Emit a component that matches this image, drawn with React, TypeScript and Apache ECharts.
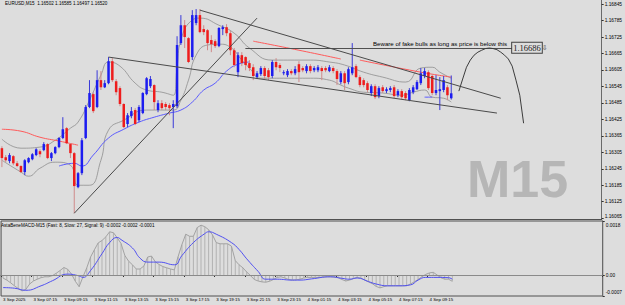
import React, { useEffect, useRef } from 'react';
import * as echarts from 'echarts';

// ---------- data ----------
const symbolName = 'EURUSD,M15';
const ohlcTitle = '1.16502 1.16585 1.16497 1.16520';
const macdTitle = 'AstaBeneMACD-M15 (Fast: 8, Slow: 27, Signal: 9) -0.0002 -0.0002 -0.0001';
const watermark = 'M15';
const startTimeUTC = Date.UTC(2025, 8, 3, 5, 15); // first bar: 3 Sep 2025 05:15
const barMinutes = 15;
const futureSlots = 39; // chart shift space on the right

// [open, high, low, close]
const candles: [number, number, number, number][] = [
  [1.16320, 1.16327, 1.16251, 1.16284], [1.16287, 1.16295, 1.16269, 1.16276], [1.16273, 1.16302, 1.16265, 1.16295],
  [1.16291, 1.16295, 1.16258, 1.16265], [1.16265, 1.16273, 1.16251, 1.16255], [1.16255, 1.16258, 1.16229, 1.16233],
  [1.16233, 1.16280, 1.16222, 1.16276], [1.16269, 1.16287, 1.16265, 1.16284], [1.16280, 1.16302, 1.16276, 1.16298],
  [1.16295, 1.16320, 1.16291, 1.16316], [1.16309, 1.16316, 1.16287, 1.16298], [1.16313, 1.16342, 1.16309, 1.16335],
  [1.16335, 1.16338, 1.16280, 1.16284], [1.16284, 1.16306, 1.16273, 1.16302], [1.16302, 1.16327, 1.16298, 1.16324],
  [1.16324, 1.16360, 1.16320, 1.16357], [1.16357, 1.16433, 1.16353, 1.16389], [1.16393, 1.16397, 1.16335, 1.16338],
  [1.16335, 1.16338, 1.16284, 1.16302], [1.16302, 1.16306, 1.16083, 1.16182], [1.16178, 1.16233, 1.16174, 1.16229],
  [1.16229, 1.16357, 1.16222, 1.16349], [1.16357, 1.16477, 1.16353, 1.16470], [1.16470, 1.16568, 1.16466, 1.16521],
  [1.16517, 1.16524, 1.16448, 1.16455], [1.16470, 1.16604, 1.16466, 1.16568], [1.16568, 1.16601, 1.16532, 1.16542],
  [1.16542, 1.16568, 1.16539, 1.16557], [1.16557, 1.16652, 1.16553, 1.16637], [1.16637, 1.16648, 1.16561, 1.16568],
  [1.16564, 1.16572, 1.16513, 1.16524], [1.16539, 1.16546, 1.16473, 1.16481], [1.16481, 1.16484, 1.16393, 1.16397],
  [1.16408, 1.16448, 1.16397, 1.16440], [1.16437, 1.16470, 1.16429, 1.16455], [1.16459, 1.16466, 1.16404, 1.16408],
  [1.16422, 1.16477, 1.16415, 1.16470], [1.16448, 1.16524, 1.16444, 1.16521], [1.16517, 1.16579, 1.16513, 1.16575],
  [1.16546, 1.16583, 1.16539, 1.16572], [1.16550, 1.16553, 1.16459, 1.16488], [1.16459, 1.16495, 1.16451, 1.16484],
  [1.16484, 1.16495, 1.16459, 1.16466], [1.16481, 1.16488, 1.16459, 1.16470], [1.16477, 1.16484, 1.16440, 1.16466],
  [1.16470, 1.16495, 1.16393, 1.16481], [1.16473, 1.16728, 1.16466, 1.16696], [1.16703, 1.16805, 1.16696, 1.16768],
  [1.16768, 1.16787, 1.16685, 1.16725], [1.16721, 1.16725, 1.16630, 1.16634], [1.16652, 1.16823, 1.16641, 1.16805],
  [1.16776, 1.16827, 1.16768, 1.16805], [1.16805, 1.16827, 1.16739, 1.16743], [1.16754, 1.16768, 1.16732, 1.16743],
  [1.16750, 1.16754, 1.16677, 1.16703], [1.16714, 1.16732, 1.16670, 1.16699], [1.16710, 1.16717, 1.16685, 1.16692],
  [1.16692, 1.16761, 1.16688, 1.16758], [1.16754, 1.16768, 1.16732, 1.16761], [1.16761, 1.16772, 1.16728, 1.16739],
  [1.16739, 1.16747, 1.16659, 1.16677], [1.16677, 1.16685, 1.16615, 1.16623], [1.16597, 1.16670, 1.16579, 1.16659],
  [1.16659, 1.16670, 1.16619, 1.16630], [1.16652, 1.16655, 1.16604, 1.16623], [1.16630, 1.16641, 1.16601, 1.16612],
  [1.16615, 1.16626, 1.16568, 1.16583], [1.16579, 1.16601, 1.16572, 1.16593], [1.16590, 1.16619, 1.16583, 1.16612],
  [1.16612, 1.16619, 1.16572, 1.16583], [1.16604, 1.16612, 1.16568, 1.16579], [1.16583, 1.16641, 1.16575, 1.16634],
  [1.16634, 1.16648, 1.16604, 1.16615], [1.16623, 1.16630, 1.16597, 1.16612], [1.16593, 1.16604, 1.16586, 1.16597],
  [1.16586, 1.16608, 1.16579, 1.16601], [1.16601, 1.16608, 1.16586, 1.16593], [1.16593, 1.16619, 1.16586, 1.16608],
  [1.16626, 1.16637, 1.16561, 1.16597], [1.16612, 1.16619, 1.16597, 1.16604], [1.16601, 1.16626, 1.16593, 1.16619],
  [1.16619, 1.16626, 1.16593, 1.16601], [1.16604, 1.16619, 1.16597, 1.16612], [1.16604, 1.16623, 1.16597, 1.16615],
  [1.16612, 1.16619, 1.16568, 1.16601], [1.16612, 1.16619, 1.16597, 1.16604], [1.16601, 1.16623, 1.16597, 1.16615],
  [1.16612, 1.16619, 1.16593, 1.16601], [1.16601, 1.16608, 1.16550, 1.16572], [1.16561, 1.16601, 1.16553, 1.16593],
  [1.16593, 1.16601, 1.16532, 1.16557], [1.16561, 1.16615, 1.16553, 1.16608], [1.16593, 1.16703, 1.16586, 1.16615],
  [1.16619, 1.16626, 1.16575, 1.16579], [1.16579, 1.16586, 1.16542, 1.16550], [1.16568, 1.16575, 1.16542, 1.16550],
  [1.16557, 1.16564, 1.16524, 1.16532], [1.16521, 1.16553, 1.16510, 1.16546], [1.16546, 1.16553, 1.16499, 1.16506],
  [1.16510, 1.16546, 1.16502, 1.16539], [1.16542, 1.16550, 1.16521, 1.16528], [1.16528, 1.16542, 1.16521, 1.16535],
  [1.16532, 1.16546, 1.16524, 1.16539], [1.16542, 1.16550, 1.16502, 1.16510], [1.16513, 1.16535, 1.16506, 1.16528],
  [1.16528, 1.16535, 1.16499, 1.16506], [1.16521, 1.16528, 1.16495, 1.16502], [1.16495, 1.16539, 1.16491, 1.16532],
  [1.16524, 1.16550, 1.16517, 1.16542], [1.16535, 1.16568, 1.16532, 1.16561], [1.16557, 1.16612, 1.16550, 1.16593],
  [1.16583, 1.16612, 1.16575, 1.16601], [1.16597, 1.16604, 1.16532, 1.16539], [1.16583, 1.16590, 1.16513, 1.16521],
  [1.16521, 1.16586, 1.16513, 1.16532], [1.16528, 1.16579, 1.16459, 1.16535], [1.16532, 1.16583, 1.16524, 1.16568],
  [1.16542, 1.16550, 1.16495, 1.16513], [1.16502, 1.16585, 1.16497, 1.16520],
];

// envelope bands (sampled points [bar, price])
const upperBand: [number, number][] = [
  [0, 1.16353], [5, 1.16320], [10, 1.16324], [14, 1.16349], [18, 1.16393], [20, 1.16415], [23, 1.16495],
  [26, 1.16586], [28, 1.16634], [31, 1.16619], [35, 1.16557], [38, 1.16532], [42, 1.16524], [45, 1.16513],
  [46, 1.16615], [47, 1.16714], [50, 1.16787], [52, 1.16794], [57, 1.16768], [61, 1.16739], [65, 1.16685],
  [71, 1.16641], [81, 1.16641], [86, 1.16634], [90, 1.16623], [95, 1.16597], [100, 1.16579], [106, 1.16561],
  [110, 1.16612], [113, 1.16615], [115, 1.16597], [118, 1.16575],
];
const lowerBand: [number, number][] = [
  [0, 1.16276], [5, 1.16233], [7, 1.16218], [10, 1.16247], [14, 1.16269], [18, 1.16258], [20, 1.16185],
  [23, 1.16185], [26, 1.16276], [28, 1.16386], [32, 1.16422], [38, 1.16459], [45, 1.16459], [47, 1.16495],
  [49, 1.16568], [51, 1.16659], [54, 1.16696], [57, 1.16699], [60, 1.16688], [63, 1.16641], [65, 1.16612],
  [68, 1.16575], [74, 1.16575], [81, 1.16575], [86, 1.16568], [89, 1.16550], [91, 1.16539], [95, 1.16524],
  [100, 1.16521], [105, 1.16513], [108, 1.16524], [111, 1.16532], [113, 1.16506], [116, 1.16502], [118, 1.16488],
];
const redLineA: [number, number][] = [[0, 1.16389], [5, 1.16382], [10, 1.16360], [15, 1.16346], [20, 1.16331]];
const redLineB: [number, number][] = [[66, 1.16710], [78, 1.16677], [89, 1.16645]];
const redLineC: [number, number][] = [[94, 1.16641], [110, 1.16597], [118, 1.16579]];
const blueLineA: [number, number][] = [
  [15, 1.16255], [19, 1.16265], [21, 1.16255], [24, 1.16295], [28, 1.16357], [32, 1.16389], [36, 1.16415],
  [40, 1.16433], [44, 1.16448], [47, 1.16459], [50, 1.16488], [53, 1.16532], [56, 1.16557], [59, 1.16601],
  [62, 1.16626], [65, 1.16634],
];
const blueLineB: [number, number][] = [[111, 1.16506], [113, 1.16506]];

// drawn objects
const channelUpper: [number, number][] = [[52, 1.16823], [131, 1.16502]];
const channelLower: [number, number][] = [[28, 1.16652], [130, 1.16448]];
const risingLine: [number, number][] = [[19, 1.16083], [67, 1.16794]];
const arcCurve: [number, number][] = [
  [120, 1.16528], [121, 1.16572], [122, 1.16615], [123, 1.16641], [124, 1.16659], [125, 1.16670],
  [126, 1.16677], [127, 1.16683], [128, 1.16685], [129, 1.16683], [130, 1.16679], [131, 1.16670],
  [132, 1.16659], [133, 1.16645], [134, 1.16619], [135, 1.16568], [136, 1.16513], [137, 1.16411],
];
const bewareText = 'Beware of fake bulls as long as price is below this';
const bewareLevel = 1.16686;
const bewareFromBar = 64;
const bewareToBar = 134;
const lastPrice = 1.16520;

// MACD
const macdMain = [
  -0.00010, -0.00017, -0.00026, -0.00036, -0.00045, -0.00053, -0.00048, -0.00030, -0.00020, -0.00014,
  -0.00009, -0.00006, -0.00006, -0.00002, 0.00006, 0.00015, 0.00025, 0.00019, 0.00003, -0.00021,
  -0.00039, -0.00006, 0.00024, 0.00060, 0.00084, 0.00107, 0.00115, 0.00127, 0.00144, 0.00141,
  0.00124, 0.00105, 0.00065, 0.00046, 0.00034, 0.00020, 0.00020, 0.00030, 0.00060, 0.00063,
  0.00044, 0.00035, 0.00028, 0.00024, 0.00020, 0.00017, 0.00062, 0.00102, 0.00136, 0.00129,
  0.00129, 0.00158, 0.00166, 0.00161, 0.00151, 0.00134, 0.00108, 0.00104, 0.00104, 0.00104,
  0.00096, 0.00048, 0.00034, 0.00024, 0.00010, -0.00002, -0.00015, -0.00020, -0.00023, -0.00024,
  -0.00021, -0.00015, -0.00008, -0.00006, -0.00010, -0.00015, -0.00017, -0.00016, -0.00014, -0.00010,
  -0.00008, -0.00008, -0.00008, -0.00008, -0.00007, -0.00006, -0.00006, -0.00007, -0.00009, -0.00015,
  -0.00020, -0.00017, -0.00012, -0.00008, -0.00011, -0.00017, -0.00023, -0.00029, -0.00038, -0.00043,
  -0.00039, -0.00036, -0.00036, -0.00036, -0.00036, -0.00036, -0.00036, -0.00030, -0.00023, -0.00015,
  -0.00006, 0.00002, 0.00007, 0.00009, 0.00000, -0.00009, -0.00014, -0.00014, -0.00021,
];
const macdSignal: [number, number][] = [
  [0, -0.00042], [3, -0.00044], [6, -0.00051], [10, -0.00036], [13, -0.00019], [17, 0.00003], [20, -0.00003],
  [21, -0.00008], [23, 0.00015], [26, 0.00071], [28, 0.00108], [30, 0.00125], [31, 0.00118], [34, 0.00090],
  [36, 0.00056], [38, 0.00043], [41, 0.00043], [45, 0.00034], [47, 0.00065], [50, 0.00108], [53, 0.00138],
  [54, 0.00144], [56, 0.00136], [60, 0.00108], [62, 0.00085], [64, 0.00054], [67, 0.00012], [69, -0.00014],
  [72, -0.00014], [76, -0.00017], [78, -0.00017], [81, -0.00013], [86, -0.00006], [89, -0.00011],
  [91, -0.00014], [93, -0.00010], [96, -0.00022], [98, -0.00030], [101, -0.00036], [104, -0.00036],
  [107, -0.00033], [109, -0.00017], [111, -0.00008], [114, -0.00008], [117, -0.00009], [118, -0.00014],
];

// axis ticks
const priceTicks = [
  1.16845, 1.16785, 1.16725, 1.16665, 1.16605, 1.16545, 1.16485, 1.16425, 1.16365, 1.16305,
  1.16245, 1.16185, 1.16125, 1.16065,
];
const priceMin = 1.16062;
const priceMax = 1.16860;
const macdTicks = [0.0018, 0, -0.0007];
const macdMin = -0.0007;
const macdMax = 0.0018;
const labelEvery = 8;

const MONTHS = ['Jan', 'Feb', 'Mar', 'Apr', 'May', 'Jun', 'Jul', 'Aug', 'Sep', 'Oct', 'Nov', 'Dec'];
const pad2 = (n: number) => (n < 10 ? '0' + n : '' + n);

export default function App() {
  const ref = useRef<HTMLDivElement>(null);
  useEffect(() => {
    if (!ref.current) return;
    const chart = echarts.init(ref.current, undefined, { renderer: 'svg' });
    const font = 'Liberation Sans, Arial, sans-serif';
    const total = candles.length + futureSlots;
    const times: string[] = [];
    for (let i = 0; i < total; i++) {
      const d = new Date(startTimeUTC + i * barMinutes * 60000);
      times.push(
        i === 0
          ? `${d.getUTCDate()} ${MONTHS[d.getUTCMonth()]} ${d.getUTCFullYear()}`
          : `${d.getUTCDate()} ${MONTHS[d.getUTCMonth()]} ${pad2(d.getUTCHours())}:${pad2(d.getUTCMinutes())}`
      );
    }
    const showLabel = (idx: number) => idx < candles.length && idx % labelEvery === 0;
    const minPrice = priceTicks[priceTicks.length - 1];

    const lineS = (data: [number, number][], color: string, width = 1, smooth: boolean | number = true, extra: any = {}) => ({
      type: 'line',
      xAxisIndex: 0,
      yAxisIndex: 0,
      data,
      smooth,
      showSymbol: false,
      symbol: 'none',
      lineStyle: { color, width },
      silent: true,
      z: 3,
      ...extra,
    });

    const option: any = {
      animation: false,
      backgroundColor: '#dddddd',
      textStyle: { fontFamily: font },
      grid: [
        { left: 0, top: 0, width: 603, height: 219, show: false },
        { left: 0, top: 221, width: 603, height: 75, show: true, borderColor: '#505050', borderWidth: 1, backgroundColor: 'transparent' },
      ],
      xAxis: [
        {
          type: 'category', gridIndex: 0, data: times, boundaryGap: true,
          axisLine: { show: true, lineStyle: { color: '#505050', width: 1 } },
          axisTick: { show: false }, axisLabel: { show: false }, splitLine: { show: false },
        },
        {
          type: 'category', gridIndex: 1, data: times, boundaryGap: true, position: 'bottom',
          axisLine: { show: true, lineStyle: { color: '#505050', width: 1 } },
          axisTick: { show: true, interval: showLabel, length: 2, lineStyle: { color: '#303030' } },
          axisLabel: {
            show: true, interval: showLabel, align: 'left', fontSize: 4.4, color: '#000', margin: 1, fontFamily: font,
          },
          splitLine: { show: false },
        },
      ],
      yAxis: [
        {
          type: 'value', gridIndex: 0, position: 'right', min: priceMin, max: priceMax, scale: true,
          axisLine: { show: true, lineStyle: { color: '#6a6a6a', width: 1 } },
          axisTick: { show: true, customValues: priceTicks, length: 2, lineStyle: { color: '#303030' } },
          axisLabel: {
            show: true, customValues: priceTicks, fontSize: 4.8, color: '#000', margin: 3, fontFamily: font,
            formatter: (v: number) => (v === minPrice ? `{lo|${v.toFixed(5)}}` : v.toFixed(5)),
            rich: { lo: { fontSize: 4.8, fontFamily: font, color: '#000', padding: [0, 0, 3, 0] } },
          },
          splitLine: { show: false },
        },
        {
          type: 'value', gridIndex: 1, position: 'right', min: macdMin, max: macdMax,
          axisLine: { show: true, lineStyle: { color: '#6a6a6a', width: 1 } },
          axisTick: { show: true, customValues: macdTicks, length: 2, lineStyle: { color: '#303030' } },
          axisLabel: {
            show: true, customValues: macdTicks, fontSize: 4.8, color: '#000', margin: 3, fontFamily: font,
            formatter: (v: number) =>
              v === macdMax ? `{hi|${v.toFixed(4)}}` : v === macdMin ? `{lo|${v.toFixed(4)}}` : '0.00',
            rich: {
              hi: { fontSize: 4.8, fontFamily: font, color: '#000', padding: [8, 0, 0, 0] },
              lo: { fontSize: 4.8, fontFamily: font, color: '#000', padding: [0, 0, 8, 0] },
            },
          },
          splitLine: { show: false },
        },
      ],
      graphic: [
        {
          type: 'text', left: 467, top: 153, z: 0, silent: true,
          style: { text: watermark, fontSize: 52, fontWeight: 'bold', fill: '#b6b6b6', fontFamily: font },
        },
        {
          type: 'text', left: 5, top: 1, z: 10, silent: true,
          style: { text: `${symbolName}  ${ohlcTitle}`, fontSize: 4.6, fill: '#000', fontFamily: font },
        },
        {
          type: 'text', left: 1, top: 223, z: 10, silent: true,
          style: { text: macdTitle, fontSize: 4.6, fill: '#000', fontFamily: font },
        },
      ],
      series: [
        // current price line + label, beware level
        {
          type: 'line', xAxisIndex: 0, yAxisIndex: 0, data: [], silent: true, z: 1,
          markLine: {
            silent: true, symbol: ['none', 'none'], animation: false,
            data: [
              {
                yAxis: lastPrice,
                lineStyle: { color: '#bdbdbd', width: 1, type: 'solid' },
                label: {
                  show: true, position: 'end', formatter: lastPrice.toFixed(5), color: '#fff', backgroundColor: '#000',
                  fontSize: 4.8, padding: [1, 2, 0, 2], distance: 1, fontFamily: font,
                },
              },
              [
                {
                  coord: [bewareFromBar, bewareLevel],
                  lineStyle: { color: '#505050', width: 1, type: 'solid' },
                  label: {
                    show: true, position: 'insideEndTop', formatter: bewareText, color: '#000',
                    fontSize: 6.1, distance: [5, 1], fontFamily: font,
                  },
                },
                { coord: [bewareToBar, bewareLevel] },
              ],
              [
                {
                  coord: [bewareFromBar, bewareLevel],
                  lineStyle: { color: '#505050', width: 1, type: 'solid' },
                  label: {
                    show: true, position: 'end', distance: 0,
                    formatter: '{a|' + bewareLevel.toFixed(5) + '}{b|⇩}',
                    rich: {
                      a: {
                        fontFamily: 'Liberation Serif, serif', fontSize: 8.5, color: '#202020',
                        borderColor: '#404040', borderWidth: 1, padding: [1, 1, 0, 1], backgroundColor: '#dddddd',
                      },
                      b: { fontFamily: 'DejaVu Sans', fontSize: 7, color: '#404040' },
                    },
                  },
                },
                { coord: [bewareToBar, bewareLevel] },
              ],
            ],
          },
        },
        lineS(upperBand, '#8e8e8e', 0.8),
        lineS(lowerBand, '#8e8e8e', 0.8),
        lineS(redLineA, '#ff5a5a', 1),
        lineS(redLineB, '#ff5a5a', 1),
        lineS(redLineC, '#ff5a5a', 1),
        lineS(blueLineA, '#5a5aff', 1),
        lineS(blueLineB, '#5a5aff', 1),
        {
          type: 'custom', xAxisIndex: 0, yAxisIndex: 0, z: 4, silent: true, clip: true,
          data: candles.map((c, i) => [i, c[0], c[1], c[2], c[3]]),
          encode: { x: 0, y: [1, 2, 3, 4] },
          renderItem: (params: any, api: any) => {
            const i = api.value(0);
            const o = api.value(1), h = api.value(2), l = api.value(3), c = api.value(4);
            const pO = api.coord([i, o]);
            const pC = api.coord([i, c]);
            const pH = api.coord([i, h]);
            const pL = api.coord([i, l]);
            const up = c >= o;
            const w = 2.5;
            const top = Math.min(pO[1], pC[1]);
            const hgt = Math.max(1, Math.abs(pO[1] - pC[1]));
            return {
              type: 'group',
              children: [
                { type: 'line', shape: { x1: pH[0], y1: pH[1], x2: pL[0], y2: pL[1] }, style: { stroke: up ? '#3a3ad8' : '#cf8a8a', lineWidth: 1 } },
                { type: 'rect', shape: { x: pO[0] - w / 2, y: top, width: w, height: hgt }, style: { fill: up ? '#1c1cf0' : '#ee1c1c' } },
              ],
            };
          },
        },
        lineS(channelUpper, '#4a4a4a', 1, false, { z: 5 }),
        lineS(channelLower, '#4a4a4a', 1, false, { z: 5 }),
        lineS(risingLine, '#4a4a4a', 1, false, { z: 5 }),
        lineS(arcCurve, '#3c3c3c', 1, false, { z: 5 }),
        // MACD
        {
          type: 'bar', xAxisIndex: 1, yAxisIndex: 1, data: macdMain, barWidth: 1, silent: true,
          itemStyle: { color: '#b2b2b2' }, z: 2,
        },
        {
          type: 'line', xAxisIndex: 1, yAxisIndex: 1, data: macdMain, showSymbol: false, symbol: 'none', silent: true,
          lineStyle: { color: '#a2a2a2', width: 1 }, z: 3,
          markLine: {
            silent: true, symbol: ['none', 'none'],
            data: [{ yAxis: 0, lineStyle: { color: '#8a8a8a', width: 1, type: 'solid' }, label: { show: false } }],
          },
        },
        {
          type: 'line', xAxisIndex: 1, yAxisIndex: 1, data: macdSignal, smooth: true, showSymbol: false, symbol: 'none', silent: true,
          lineStyle: { color: '#5050f0', width: 1 }, z: 4,
        },
      ],
    };
    chart.setOption(option);
    return () => chart.dispose();
  }, []);
  return <div ref={ref} style={{ position: 'fixed', left: 0, top: 0, width: 625, height: 305 }} />;
}
